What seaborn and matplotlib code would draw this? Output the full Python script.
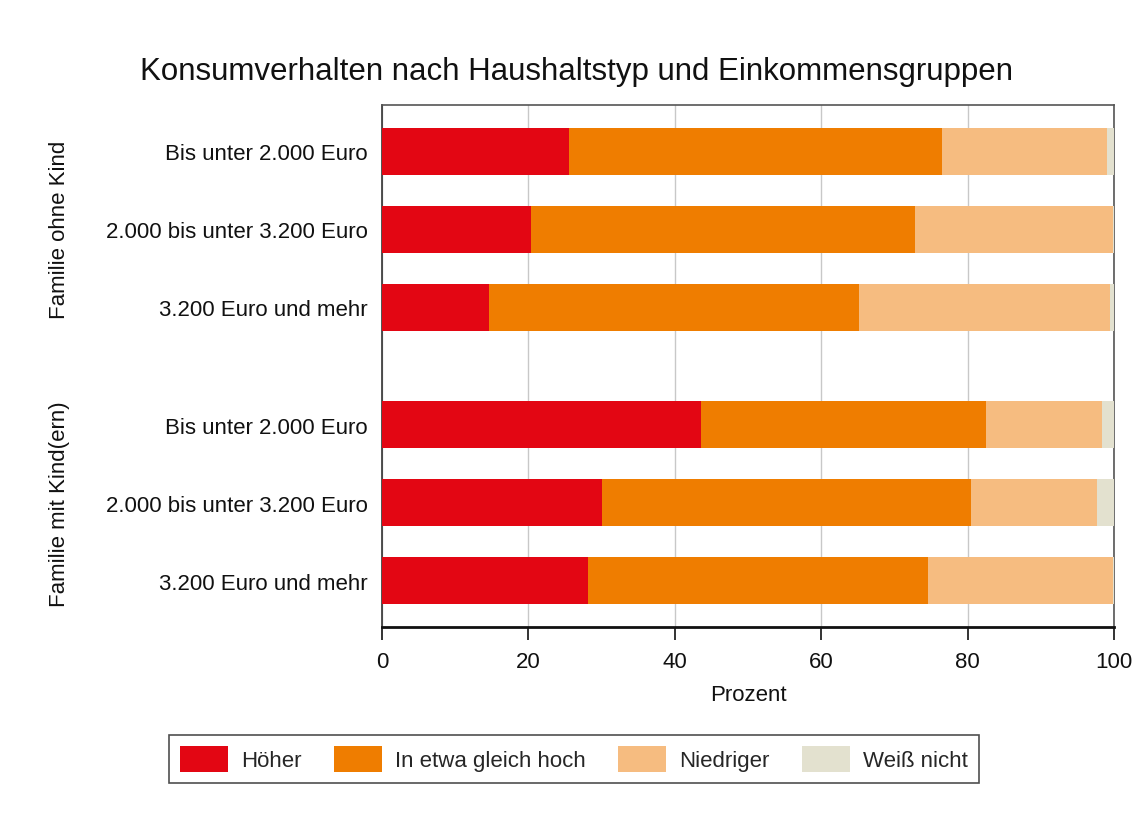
import numpy as np
import pandas as pd
import matplotlib
matplotlib.use("Agg")
import matplotlib.pyplot as plt
import seaborn as sns
from matplotlib.patches import Patch

# ---- data ----
groups = ["Familie ohne Kind", "Familie mit Kind(ern)"]
incomes = ["Bis unter 2.000 Euro", "2.000 bis unter 3.200 Euro", "3.200 Euro und mehr"]
series = ["Höher", "In etwa gleich hoch", "Niedriger", "Weiß nicht"]
hoeher = [25.6, 20.4, 14.6, 43.6, 30.1, 28.1]
gleich = [50.9, 52.4, 50.6, 38.9, 50.3, 46.5]
niedriger = [22.5, 27.1, 34.3, 15.8, 17.3, 25.3]
weiss = [1.0, 0.1, 0.5, 1.7, 2.3, 0.1]
colors = ["#E30613", "#EF7D00", "#F6BC80", "#E3E1CF"]

sns.set_theme(style="white")
plt.rcParams["font.family"] = ["Liberation Sans", "DejaVu Sans"]

rows = []
gap = 0.5
for gi, g in enumerate(groups):
    for ii, inc in enumerate(incomes):
        rows.append({"group": g, "income": inc,
                     "pos": gi * (len(incomes) + gap) + ii})
df = pd.DataFrame(rows)
vals = np.array([hoeher, gleich, niedriger, weiss])
cum = np.cumsum(vals, axis=0)

fig = plt.figure(figsize=(11.35, 8.28), dpi=100)
ax = fig.add_axes([382/1135, 1-628/828, (1114-382)/1135, (628-106)/828])

for k in range(len(series) - 1, -1, -1):
    d = df.copy()
    d["value"] = cum[k]
    sns.barplot(data=d, x="value", y="pos", orient="y", native_scale=True,
                color=colors[k], width=0.6, saturation=1, ax=ax,
                linewidth=0, errorbar=None, zorder=3)

fs = 16
ax.set_xlim(0, 100)
ax.set_ylim(df["pos"].max() + 0.59, -0.59)
ax.set_xticks([0, 20, 40, 60, 80, 100])
ax.set_yticks(df["pos"])
ax.set_yticklabels(df["income"])
ax.tick_params(axis="y", length=0, pad=10, labelsize=fs, colors="#111111")
ax.tick_params(axis="x", length=9, width=1.2, direction="out", pad=8,
               labelsize=fs, colors="#111111", bottom=True)
ax.xaxis.grid(True, color="#C8C8C8", linewidth=1, zorder=0)
ax.set_axisbelow(True)
ax.set_xlabel("Prozent", fontsize=fs, labelpad=9, color="#111111")
ax.set_ylabel("")
for s in ["top", "right", "left"]:
    ax.spines[s].set_visible(True)
    ax.spines[s].set_color("#555555")
    ax.spines[s].set_linewidth(1.2)
ax.spines["bottom"].set_color("#111111")
ax.spines["bottom"].set_linewidth(2)
ax.spines["left"].set_color("#333333")

# group labels
for gi, g in enumerate(groups):
    pos = df.loc[df["group"] == g, "pos"].mean()
    ax.text(-0.44, pos, g, transform=ax.get_yaxis_transform(), rotation=90,
            ha="center", va="center", fontsize=fs, color="#111111")

fig.text(576/1135, 1-72/828, "Konsumverhalten nach Haushaltstyp und Einkommensgruppen",
         ha="center", va="center", fontsize=22.5, color="#111111")

handles = [Patch(facecolor=c, edgecolor="none") for c in colors]
leg = fig.legend(handles, series, loc="center", bbox_to_anchor=(574/1135, 1-760/828),
                 ncol=4, frameon=True, fancybox=False, edgecolor="#222222",
                 fontsize=fs, handlelength=2.16, handleheight=1.4,
                 columnspacing=1.45, handletextpad=0.6, borderpad=0.5)
leg.get_frame().set_linewidth(1.2)

fig.savefig("out.png", dpi=100, facecolor="white")
